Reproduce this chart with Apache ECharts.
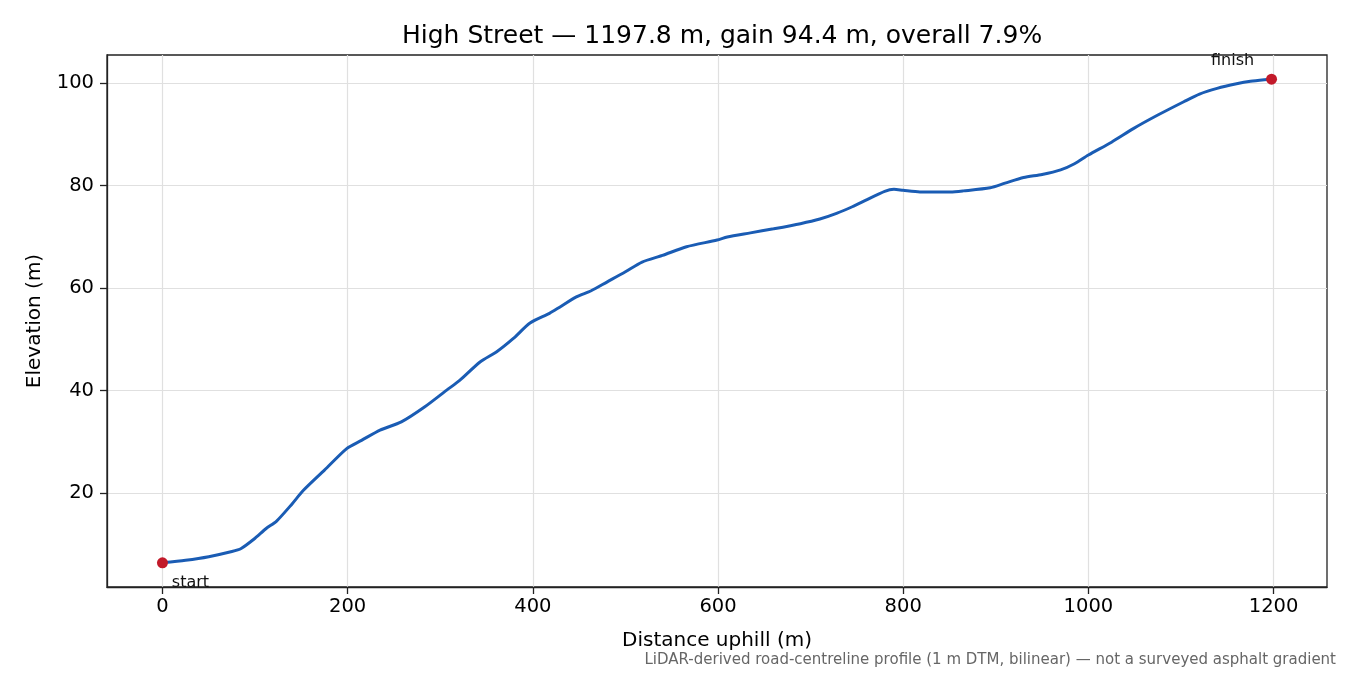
<!DOCTYPE html>
<html>
<head>
<meta charset="utf-8">
<script src="https://cdn.jsdelivr.net/npm/echarts@6/dist/echarts.min.js"></script>
<style>
  html, body { margin: 0; padding: 0; background: #fff; }
  #main { width: 1350px; height: 675px; }
</style>
</head>
<body>
<div id="main"></div>
<script>
// profile (distance m, elevation m)
var distances = [0, 25, 50, 75, 85, 100, 112, 123, 140, 152, 175, 199, 215, 235, 258, 283, 307, 321, 343, 361,
  379, 397, 418, 429, 447, 463, 480, 500, 518, 540, 566, 599, 610, 635, 660, 689, 710, 728, 745, 761,
  780, 790, 800, 818, 851, 865, 894, 910, 930, 950, 970, 985, 1000, 1025, 1049, 1075, 1103, 1120, 1139, 1160,
  1175, 1190, 1197.8];
var elevations = [6.4, 6.9, 7.6, 8.6, 9.2, 11.2, 13.1, 14.5, 17.9, 20.5, 24.5, 28.7, 30.3, 32.3, 33.9, 36.8, 40.1, 42.0, 45.6, 47.6,
  50.2, 53.2, 55.1, 56.3, 58.3, 59.5, 61.2, 63.2, 65.1, 66.4, 68.1, 69.4, 70.0, 70.8, 71.6, 72.6, 73.5, 74.6, 75.9, 77.3,
  78.9, 79.3, 79.1, 78.8, 78.8, 79.0, 79.6, 80.5, 81.6, 82.2, 83.1, 84.3, 86.0, 88.5, 91.2, 93.8, 96.4, 97.9, 99.0, 99.9,
  100.4, 100.7, 100.8];
var xTicks = [0, 200, 400, 600, 800, 1000, 1200];
var yTicks = [20, 40, 60, 80, 100];
var endLabels = ['start', 'finish'];

var lineData = [];
for (var i = 0; i < distances.length; i++) {
  lineData.push([distances[i], elevations[i]]);
}
var last = distances.length - 1;
var endPoints = [
  { value: [distances[0], elevations[0]],
    label: { show: true, formatter: endLabels[0], position: 'inside', offset: [28, 20] } },
  { value: [distances[last], elevations[last]],
    label: { show: true, formatter: endLabels[1], position: 'inside', offset: [-39, -18] } }
];

var xSpan = distances[last] - distances[0];
var ySpan = elevations[last] - elevations[0];

var myChart = echarts.init(document.getElementById('main'));
var axisFont = 'DejaVu Sans';
var plain = function (v) { return String(v); };
var option = {
  animation: false,
  backgroundColor: '#fff',
  // title sits centred over the plot area, not the page
  title: {
    text: 'High Street \u2014 1197.8 m, gain 94.4 m, overall 7.9%',
    left: 397,
    top: 19,
    textStyle: { fontFamily: axisFont, fontSize: 25, fontWeight: 'normal', color: '#000' }
  },
  grid: {
    left: 107, right: 23, top: 55, bottom: 88,
    show: true, borderColor: '#222', borderWidth: 1.3, backgroundColor: 'transparent'
  },
  xAxis: {
    type: 'value',
    min: distances[0] - xSpan * 0.05,
    max: distances[last] + xSpan * 0.05,
    name: 'Distance uphill (m)',
    nameLocation: 'middle',
    nameGap: 44,
    nameTextStyle: { fontFamily: axisFont, fontSize: 20, color: '#000' },
    axisLine: { show: true, onZero: false, lineStyle: { color: '#222', width: 1.3 } },
    axisTick: { show: true, inside: false, length: 7, customValues: xTicks, lineStyle: { color: '#222', width: 1.3 } },
    axisLabel: { customValues: xTicks, formatter: plain, margin: 10, fontFamily: axisFont, fontSize: 19.5, color: '#000' },
    splitLine: { show: true, lineStyle: { color: '#e0e0e0', width: 1.2 } }
  },
  yAxis: {
    type: 'value',
    min: elevations[0] - ySpan * 0.05,
    max: elevations[last] + ySpan * 0.05,
    name: 'Elevation (m)',
    nameLocation: 'middle',
    nameGap: 62,
    nameTextStyle: { fontFamily: axisFont, fontSize: 20, color: '#000' },
    axisLine: { show: true, onZero: false, lineStyle: { color: '#222', width: 1.3 } },
    axisTick: { show: true, inside: false, length: 7, customValues: yTicks, lineStyle: { color: '#222', width: 1.3 } },
    axisLabel: { customValues: yTicks, formatter: plain, margin: 13, fontFamily: axisFont, fontSize: 19.5, color: '#000' },
    splitLine: { show: true, lineStyle: { color: '#e0e0e0', width: 1.2 } }
  },
  series: [
    {
      name: 'profile',
      type: 'line',
      data: lineData,
      smooth: 0.25,
      showSymbol: false,
      lineStyle: { color: '#1a5cb4', width: 3 },
      z: 2
    },
    {
      name: 'ends',
      type: 'scatter',
      data: endPoints,
      symbolSize: 11,
      itemStyle: { color: '#c21a2a', opacity: 1 },
      label: { fontFamily: axisFont, fontSize: 16, color: '#111' },
      z: 3
    }
  ],
  graphic: [
    {
      type: 'text',
      right: 14,
      bottom: 7,
      style: {
        text: 'LiDAR-derived road-centreline profile (1 m DTM, bilinear) \u2014 not a surveyed asphalt gradient',
        fontFamily: axisFont,
        fontSize: 15,
        fill: '#666'
      }
    }
  ]
};
myChart.setOption(option);
</script>
</body>
</html>
